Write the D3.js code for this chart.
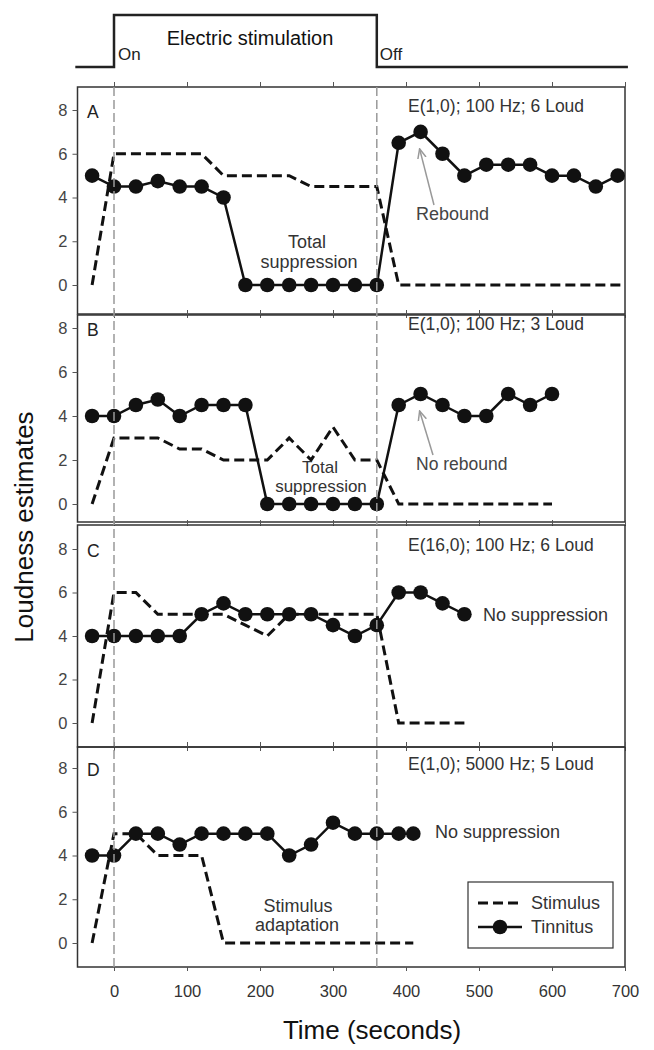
<!DOCTYPE html>
<html><head><meta charset="utf-8">
<script src="https://cdn.jsdelivr.net/npm/d3@7"></script>
<style>body{margin:0;background:#fff}svg{display:block;font-family:"Liberation Sans",Arial,sans-serif}</style>
</head><body><svg id="c" width="654" height="1050"></svg>
<script>
// ---------- DATA ----------
const xTicks = [0,100,200,300,400,500,600,700];
const yTicks = [0,2,4,6,8];
const stimOn = 0, stimOff = 360;

const tinTimesA = [-30,0,30,60,90,120,150,180,210,240,270,300,330,360,390,420,450,480,510,540,570,600,630,660,690];
const tinA      = [5,4.5,4.5,4.75,4.5,4.5,4,0,0,0,0,0,0,0,6.5,7,6,5,5.5,5.5,5.5,5,5,4.5,5];
const stimTimesA = [-30,0,120,150,240,270,360,390,700];
const stimA      = [0,6,6,5,5,4.5,4.5,0,0];

const tinTimesB = [-30,0,30,60,90,120,150,180,210,240,270,300,330,360,390,420,450,480,510,540,570,600];
const tinB      = [4,4,4.5,4.75,4,4.5,4.5,4.5,0,0,0,0,0,0,4.5,5,4.5,4,4,5,4.5,5];
const stimTimesB = [-30,0,60,90,120,150,210,240,270,300,330,360,390,600];
const stimB      = [0,3,3,2.5,2.5,2,2,3,2,3.5,2,2,0,0];

const tinTimesC = [-30,0,30,60,90,120,150,180,210,240,270,300,330,360,390,420,450,480];
const tinC      = [4,4,4,4,4,5,5.5,5,5,5,5,4.5,4,4.5,6,6,5.5,5];
const stimTimesC = [-30,0,30,60,150,180,210,240,360,390,480];
const stimC      = [0,6,6,5,5,4.5,4,5,5,0,0];

const tinTimesD = [-30,0,30,60,90,120,150,180,210,240,270,300,330,360,390,410];
const tinD      = [4,4,5,5,4.5,5,5,5,5,4,4.5,5.5,5,5,5,5];
const stimTimesD = [-30,0,30,60,120,150,410];
const stimD      = [0,5,5,4,4,0,0];

const panelLetters = ["A","B","C","D"];
const panelTitles = ["E(1,0); 100 Hz; 6 Loud","E(1,0); 100 Hz; 3 Loud","E(16,0); 100 Hz; 6 Loud","E(1,0); 5000 Hz; 5 Loud"];

// ---------- LAYOUT ----------
const svg = d3.select("#c");
const x = d3.scaleLinear().domain([-50,700]).range([77.5,625]);
const layout = [
  {top:87, bottom:314, y0:285, y8:110},
  {top:315, bottom:522, y0:504, y8:328},
  {top:525, bottom:747, y0:723, y8:549},
  {top:747, bottom:967, y0:943, y8:768}
];
const panels = [
  {tt:tinTimesA, tv:tinA, st:stimTimesA, sv:stimA},
  {tt:tinTimesB, tv:tinB, st:stimTimesB, sv:stimB},
  {tt:tinTimesC, tv:tinC, st:stimTimesC, sv:stimC},
  {tt:tinTimesD, tv:tinD, st:stimTimesD, sv:stimD}
];
const FONT = 18;

// top schematic
const sch = d3.scaleLinear().domain([0,1]).range([67,15]);
const schPts = [[-53,0],[stimOn,0],[stimOn,1],[stimOff,1],[stimOff,0],[704,0]];
svg.append("path").attr("d", d3.line().x(d=>x(d[0])).y(d=>sch(d[1]))(schPts))
  .attr("fill","none").attr("stroke","#222").attr("stroke-width",2.5);
svg.append("text").attr("x",250).attr("y",45).attr("text-anchor","middle").attr("font-size",20).attr("fill","#111").text("Electric stimulation");
svg.append("text").attr("x",x(stimOn)+4).attr("y",60).attr("font-size",17).attr("fill","#222").text("On");
svg.append("text").attr("x",x(stimOff)+3).attr("y",60).attr("font-size",17).attr("fill","#222").text("Off");

// arrow marker
svg.append("defs").append("marker").attr("id","arr").attr("viewBox","0 0 10 10").attr("refX",9).attr("refY",5)
  .attr("markerWidth",7).attr("markerHeight",7).attr("orient","auto")
  .append("path").attr("d","M0,1 L9,5 L0,9").attr("fill","none").attr("stroke","#999").attr("stroke-width",1.4);

panels.forEach((p,i)=>{
  const L = layout[i];
  const y = d3.scaleLinear().domain([0,8]).range([L.y0,L.y8]);
  const g = svg.append("g");
  // frame
  g.append("rect").attr("x",x.range()[0]).attr("y",L.top).attr("width",x.range()[1]-x.range()[0]).attr("height",L.bottom-L.top)
    .attr("fill","none").attr("stroke","#333").attr("stroke-width",1.5);
  // y axis
  const ya = g.append("g").attr("transform",`translate(${x.range()[0]},0)`)
    .call(d3.axisLeft(y).tickValues(yTicks).tickSize(5).tickPadding(5));
  ya.select(".domain").remove();
  ya.selectAll("line").attr("stroke","#555");
  ya.selectAll("text").attr("font-size",16.5).attr("fill","#444").attr("font-family","Liberation Sans, Arial, sans-serif");
  // top/bottom x ticks
  const xt = g.append("g").attr("transform",`translate(0,${L.top})`).call(d3.axisTop(x).tickValues(xTicks).tickSize(5).tickFormat(""));
  xt.select(".domain").remove(); xt.selectAll("line").attr("stroke","#555");
  if(i===3){
    const xb = g.append("g").attr("transform",`translate(0,${L.bottom})`).call(d3.axisBottom(x).tickValues(xTicks).tickSize(4).tickPadding(14));
    xb.select(".domain").remove(); xb.selectAll("line").attr("stroke","#555");
    xb.selectAll("text").attr("font-size",16.5).attr("fill","#333").attr("font-family","Liberation Sans, Arial, sans-serif");
  } else {
    const xb = g.append("g").attr("transform",`translate(0,${L.bottom})`).call(d3.axisBottom(x).tickValues(xTicks).tickSize(4).tickFormat(""));
    xb.select(".domain").remove(); xb.selectAll("line").attr("stroke","#555");
  }
  // panel letter and title
  g.append("text").attr("x",87).attr("y",y(8)+8).attr("font-size",17.5).attr("fill","#222").text(panelLetters[i]);
  g.append("text").attr("x",408).attr("y",y(8)+2).attr("font-size",17.5).attr("fill","#333").text(panelTitles[i]);
  // stimulus dashed
  const sData = p.st.map((t,k)=>[t,p.sv[k]]);
  g.append("path").attr("d", d3.line().x(d=>x(d[0])).y(d=>y(d[1]))(sData))
    .attr("fill","none").attr("stroke","#111").attr("stroke-width",3).attr("stroke-dasharray","10,5");
  // tinnitus
  const tData = p.tt.map((t,k)=>[t,p.tv[k]]);
  g.append("path").attr("d", d3.line().x(d=>x(d[0])).y(d=>y(d[1]))(tData))
    .attr("fill","none").attr("stroke","#111").attr("stroke-width",2.5);
  g.selectAll("circle").data(tData).join("circle").attr("cx",d=>x(d[0])).attr("cy",d=>y(d[1])).attr("r",7.3).attr("fill","#111");
  p.y = y;
});

// vertical reference lines
[stimOn, stimOff].forEach(t=>{
  svg.append("line").attr("x1",x(t)).attr("x2",x(t)).attr("y1",layout[0].top).attr("y2",layout[3].bottom)
    .attr("stroke","#999").attr("stroke-width",1.5).attr("stroke-dasharray","9,4");
});

// annotations
function txt(xp,yp,s,opts={}){
  return svg.append("text").attr("x",xp).attr("y",yp).attr("font-size",opts.size||FONT)
    .attr("text-anchor",opts.anchor||"start").attr("fill",opts.fill||"#333").text(s);
}
const yA = panels[0].y, yB = panels[1].y, yC = panels[2].y, yD = panels[3].y;
txt(307,248,"Total",{anchor:"middle"});
txt(309,268,"suppression",{anchor:"middle"});
txt(416,220,"Rebound",{fill:"#444"});
svg.append("line").attr("x1",434).attr("y1",205).attr("x2",x(420)-1).attr("y2",yA(7)+17)
  .attr("stroke","#999").attr("stroke-width",1.5).attr("marker-end","url(#arr)");
txt(320,473,"Total",{anchor:"middle",size:17});
txt(321,492,"suppression",{anchor:"middle",size:17});
txt(416,470,"No rebound",{fill:"#444",size:17.5});
svg.append("line").attr("x1",433).attr("y1",455).attr("x2",x(420)-1).attr("y2",yB(5)+17)
  .attr("stroke","#999").attr("stroke-width",1.5).attr("marker-end","url(#arr)");
txt(483,621,"No suppression");
txt(435,838,"No suppression");
txt(298,912,"Stimulus",{anchor:"middle"});
txt(297,931,"adaptation",{anchor:"middle"});

// legend
const lg = svg.append("g");
lg.append("rect").attr("x",468).attr("y",882).attr("width",145).attr("height",66).attr("fill","#fff").attr("stroke","#333").attr("stroke-width",1.2);
lg.append("line").attr("x1",478).attr("x2",522).attr("y1",903).attr("y2",903).attr("stroke","#111").attr("stroke-width",3).attr("stroke-dasharray","10,5");
lg.append("line").attr("x1",478).attr("x2",522).attr("y1",927).attr("y2",927).attr("stroke","#111").attr("stroke-width",2.5);
lg.append("circle").attr("cx",500).attr("cy",927).attr("r",7.3).attr("fill","#111");
lg.append("text").attr("x",531).attr("y",909).attr("font-size",18).attr("fill","#333").text("Stimulus");
lg.append("text").attr("x",531).attr("y",933).attr("font-size",18).attr("fill","#333").text("Tinnitus");

// axis titles
svg.append("text").attr("x",372).attr("y",1039).attr("text-anchor","middle").attr("font-size",26).attr("fill","#111").text("Time (seconds)");
svg.append("text").attr("transform","translate(33,527) rotate(-90)").attr("text-anchor","middle").attr("font-size",26).attr("fill","#111").text("Loudness estimates");
</script></body></html>
